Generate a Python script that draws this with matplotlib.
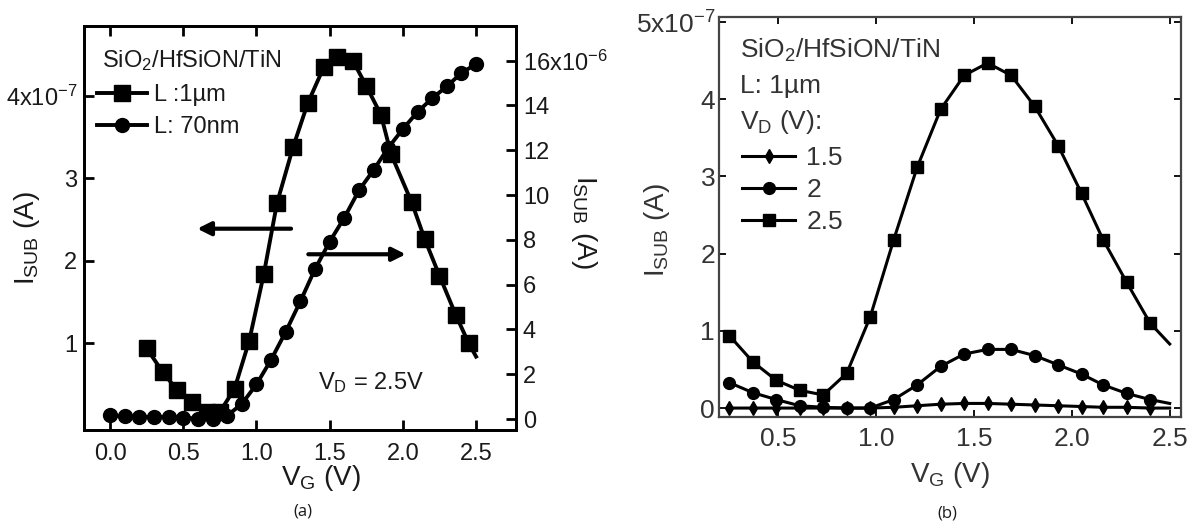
import numpy as np
import matplotlib
matplotlib.use("Agg")
import matplotlib.pyplot as plt

plt.rcParams['font.family'] = ['Liberation Sans', 'DejaVu Sans']
plt.rcParams['mathtext.fontset'] = 'custom'
plt.rcParams['mathtext.rm'] = 'Liberation Sans'
plt.rcParams['mathtext.it'] = 'Liberation Sans:italic'
plt.rcParams['mathtext.bf'] = 'Liberation Sans:bold'

# ---- panel (a): L = 1um (left axis, x1e-7 A) and L = 70nm (right axis, x1e-6 A), VD = 2.5 V
vg_1um_a = [0.25, 0.36, 0.46, 0.56, 0.66, 0.75, 0.85, 0.95, 1.05, 1.14, 1.25, 1.35,
            1.46, 1.55, 1.66, 1.75, 1.85, 1.92, 2.06, 2.15, 2.25, 2.36, 2.45, 2.50]
isub_1um_a = [0.94, 0.65, 0.43, 0.29, 0.17, 0.17, 0.45, 1.03, 1.84, 2.70, 3.38, 3.91,
              4.35, 4.47, 4.42, 4.12, 3.77, 3.29, 2.71, 2.26, 1.82, 1.35, 1.00, 0.84]

vg_70nm_a = [0.0, 0.1, 0.2, 0.3, 0.4, 0.5, 0.6, 0.7, 0.8, 0.9, 1.0, 1.1, 1.2,
             1.3, 1.4, 1.5, 1.6, 1.7, 1.8, 1.9, 2.0, 2.1, 2.2, 2.3, 2.4, 2.5]
isub_70nm_a = [0.18, 0.12, 0.1, 0.1, 0.1, 0.06, 0.02, 0.02, 0.15, 0.68, 1.55, 2.65, 3.9,
               5.26, 6.70, 7.92, 8.99, 10.21, 11.12, 12.11, 12.95, 13.71, 14.32, 14.85, 15.45, 15.85]

# ---- panel (b): L = 1um, several VD (x1e-7 A)
vg_b = [0.25, 0.37, 0.49, 0.61, 0.73, 0.85, 0.97, 1.09, 1.21, 1.33, 1.45, 1.57,
        1.69, 1.81, 1.93, 2.05, 2.16, 2.28, 2.40, 2.50]
isub_vd15 = [0.0, 0.0, 0.0, 0.0, 0.0, 0.0, 0.0, 0.01, 0.03, 0.05, 0.06, 0.06,
             0.05, 0.04, 0.03, 0.02, 0.01, 0.01, 0.0, 0.0]
isub_vd20 = [0.33, 0.20, 0.11, 0.03, 0.01, 0.0, 0.0, 0.11, 0.30, 0.54, 0.70, 0.76,
             0.76, 0.68, 0.56, 0.44, 0.30, 0.19, 0.11, 0.06]
isub_vd25 = [0.94, 0.60, 0.36, 0.23, 0.17, 0.45, 1.18, 2.18, 3.12, 3.87, 4.31, 4.47,
             4.31, 3.91, 3.40, 2.78, 2.18, 1.63, 1.10, 0.83]

left_ticks_a = [1, 2, 3, 4]
left_labels_a = ['1', '2', '3', r'4x10$^{\mathregular{-7}}$']
right_ticks_a = [0, 2, 4, 6, 8, 10, 12, 14, 16]
right_labels_a = ['0', '2', '4', '6', '8', '10', '12', '14', r'16x10$^{\mathregular{-6}}$']
y_ticks_b = [0, 1, 2, 3, 4, 5]
y_labels_b = ['0', '1', '2', '3', '4', r'5x10$^{\mathregular{-7}}$']
x_ticks_a = [0.0, 0.5, 1.0, 1.5, 2.0, 2.5]
x_ticks_b = [0.5, 1.0, 1.5, 2.0, 2.5]

ink = '#1a1a1a'
isub_label = r'I$_{\mathregular{SUB}}$ (A)'
vg_label = r'V$_{\mathregular{G}}$ (V)'

fig = plt.figure(figsize=(11.99, 5.29), dpi=100)

# ================= panel (a)
axa = fig.add_axes([0.0701, 0.1871, 0.3603, 0.7643])
axa2 = axa.twinx()

axa.plot(vg_1um_a, isub_1um_a, color='k', lw=2.8, marker='s', ms=11,
         markevery=slice(0, len(vg_1um_a) - 1), label='L :1µm')
axa2.plot(vg_70nm_a, isub_70nm_a, color='k', lw=2.8, marker='o', ms=10, label='L: 70nm')

axa.set_xlim(-0.178, 2.773)
axa.set_ylim(-0.05, 4.85)
axa2.set_ylim(-0.49, 17.56)

axa.set_xticks(x_ticks_a)
axa.set_xticklabels(['%.1f' % v for v in x_ticks_a])
axa.set_yticks(left_ticks_a)
axa.set_yticklabels(left_labels_a)
axa2.set_yticks(right_ticks_a)
axa2.set_yticklabels(right_labels_a)

axa.tick_params(axis='x', direction='in', top=True, length=7, width=2, pad=9,
                labelsize=17, labelcolor=ink)
axa.tick_params(axis='y', direction='in', length=7, width=2, pad=5,
                labelsize=17, labelcolor=ink)
axa2.tick_params(axis='y', direction='in', length=7, width=2, pad=5,
                 labelsize=17, labelcolor=ink)
for ax in (axa, axa2):
    for sp in ax.spines.values():
        sp.set_linewidth(2)
        sp.set_color('k')

fig.text(27 / 1199, 1 - 238 / 529, isub_label, rotation=90, ha='center', va='center',
         fontsize=20, color=ink)
fig.text(584 / 1199, 1 - 222 / 529, isub_label, rotation=270, ha='center', va='center',
         fontsize=20, color=ink)
fig.text(321 / 1199, 1 - 478 / 529, vg_label, ha='center', va='center', fontsize=20, color=ink)
fig.text(303 / 1199, 1 - 512 / 529, '(a)', ha='center', va='center', fontsize=12,
         color=ink, family='Open Sans')

# legend (a)
axa.text(0.041, 0.915, r'SiO$_{\mathregular{2}}$/HfSiON/TiN', transform=axa.transAxes,
         ha='left', va='center', fontsize=17, color=ink)
h1, l1 = axa.get_legend_handles_labels()
h2, l2 = axa2.get_legend_handles_labels()
axa2.legend(h1 + h2, l1 + l2, loc='upper left', bbox_to_anchor=(0.03, 0.855),
            frameon=False, fontsize=17, handlelength=2.1, handletextpad=0.3,
            labelspacing=0.42, borderpad=0, borderaxespad=0, labelcolor=ink)

axa.text(1.42, 0.52, r'V$_{\mathregular{D}}$ = 2.5V', ha='left', va='center',
         fontsize=17, color=ink)

# arrows pointing to each axis
axa.annotate('', xy=(0.595, 2.39), xytext=(1.236, 2.39),
             arrowprops=dict(arrowstyle='-|>', lw=3, color='k', mutation_scale=20,
                             shrinkA=0, shrinkB=0))
axa.annotate('', xy=(2.02, 2.08), xytext=(1.354, 2.08),
             arrowprops=dict(arrowstyle='-|>', lw=3, color='k', mutation_scale=20,
                             shrinkA=0, shrinkB=0))

# ================= panel (b)
axb = fig.add_axes([0.5999, 0.2111, 0.3848, 0.7573])
last = slice(0, len(vg_b) - 1)
axb.plot(vg_b, isub_vd15, color='k', lw=2.2, marker='d', ms=7, markevery=last, label='1.5')
axb.plot(vg_b, isub_vd20, color='k', lw=2.2, marker='o', ms=8.5, markevery=last, label='2')
axb.plot(vg_b, isub_vd25, color='k', lw=2.2, marker='s', ms=8.5, markevery=last, label='2.5')

axb.set_xlim(0.199, 2.556)
axb.set_ylim(-0.12, 5.07)
axb.set_xticks(x_ticks_b)
axb.set_xticklabels(['%.1f' % v for v in x_ticks_b])
axb.set_yticks(y_ticks_b)
axb.set_yticklabels(y_labels_b)
axb.tick_params(direction='in', top=True, right=True, length=5, width=1.3,
                labelsize=19, labelcolor='#333333')
axb.tick_params(axis='x', pad=7)
axb.tick_params(axis='y', pad=3)
for sp in axb.spines.values():
    sp.set_linewidth(1.6)
    sp.set_color('#444444')

fig.text(657 / 1199, 1 - 230 / 529, isub_label, rotation=90, ha='center', va='center',
         fontsize=20, color='#333333')
fig.text(950 / 1199, 1 - 475 / 529, vg_label, ha='center', va='center', fontsize=20,
         color='#333333')
fig.text(947 / 1199, 1 - 514 / 529, '(b)', ha='center', va='center', fontsize=12,
         color=ink, family='Open Sans')

head_y = [50, 86, 122]
head_txt = [r'SiO$_{\mathregular{2}}$/HfSiON/TiN', 'L: 1µm', r'V$_{\mathregular{D}}$ (V):']
for yy, tt in zip(head_y, head_txt):
    fig.text(740 / 1199, 1 - yy / 529, tt, ha='left', va='center', fontsize=19, color='#333333')

axb.legend(loc='upper left', bbox_to_anchor=(0.05, 0.677), frameon=False, fontsize=19,
           handlelength=2.0, handletextpad=0.42, labelspacing=0.3, borderpad=0,
           borderaxespad=0, labelcolor='#333333')

fig.savefig('out.png', dpi=100)
